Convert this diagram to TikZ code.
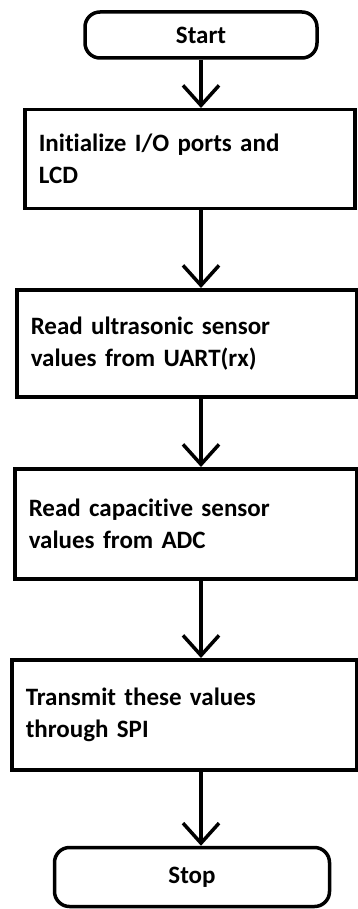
\documentclass[tikz,border=0pt]{standalone}
\usepackage{fontspec}
\setmainfont[Ligatures=NoCommon]{Carlito}
\usetikzlibrary{arrows.meta, shapes, positioning}
\tikzset{terminalnode/.style={rectangle, rounded corners=15pt, draw=black, line width=3.5pt, inner sep=0pt, font=\bfseries\fontsize{25}{30}\selectfont},processnode/.style={rectangle, anchor=north west, draw=black, line width=3.5pt, inner xsep=14pt, inner ysep=0pt, align=left, font=\bfseries\fontsize{25}{32}\selectfont}}

\begin{document}
\begin{tikzpicture}[
        x=1pt, y=-1pt,
        flowarrow/.style={-{Straight Barb[length=20pt, width=36pt]}, line width=3.5pt}
    ]
        \useasboundingbox (0, 0) rectangle (358, 909);
        % Terminals
        \node[terminalnode, minimum width=232pt, minimum height=46pt] (start) at (201, 35) {Start};
        \node[terminalnode, minimum width=275pt, minimum height=59pt] (stop) at (192, 877) {Stop};
        % Steps
        \node[processnode, minimum height=99pt, text width=302pt] (init) at (23, 108) {Initialize I/O ports and\\LCD};
        \node[processnode, minimum height=107pt, text width=312pt] (ultra) at (15, 288) {Read ultrasonic sensor\\values from UART(rx)};
        \node[processnode, minimum height=110pt, text width=314pt] (capa) at (13, 467) {Read capacitive sensor\\values from ADC};
        \node[processnode, minimum height=110pt, text width=317pt] (spi) at (10, 658) {Transmit these values\\through SPI};
        % Arrows
        \draw[flowarrow] (start) -- (start |- init.north);
        \draw[flowarrow] (init.south -| start) -- (start |- ultra.north);
        \draw[flowarrow] (ultra.south -| start) -- (start |- capa.north);
        \draw[flowarrow] (capa.south -| start) -- (start |- spi.north);
        \draw[flowarrow] (spi.south -| start) -- (start |- stop.north);
    \end{tikzpicture}
\end{document}
